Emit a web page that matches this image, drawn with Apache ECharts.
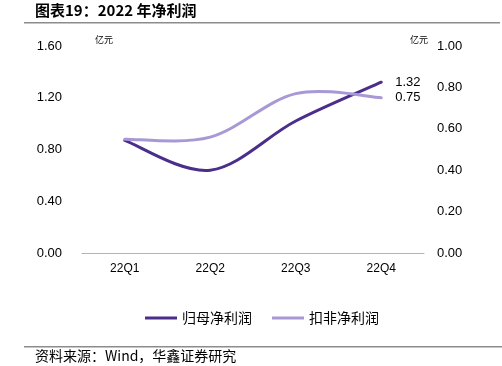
<!DOCTYPE html>
<html><head><meta charset="utf-8">
<script src="https://cdn.jsdelivr.net/npm/echarts@6/dist/echarts.min.js"></script>
<style>html,body{margin:0;padding:0;background:#fff}#c{width:502px;height:366px}</style>
</head><body><div id="c"></div>
<script>
const categories = ['22Q1', '22Q2', '22Q3', '22Q4'];
const netProfit = [0.87, 0.64, 1.02, 1.32];      // 归母净利润 (left axis)
const deductedProfit = [0.55, 0.56, 0.77, 0.75]; // 扣非净利润 (right axis)
const leftTicks = { min: 0, max: 1.6, interval: 0.4 };
const rightTicks = { min: 0, max: 1.0, interval: 0.2 };

const chart = echarts.init(document.getElementById('c'));
const fontCJK = '"Noto Sans CJK SC", sans-serif';

// Smooth (Catmull-Rom style) curve through the data points, positioned by the axes.
function smoothRender(values, color, labelDy) {
  return function (params, api) {
    if (params.dataIndex !== 0) return null;
    const pts = values.map((v, i) => api.coord([i, v]));
    const n = pts.length;
    const path = [];
    for (let i = 0; i < n - 1; i++) {
      const p0 = pts[Math.max(i - 1, 0)], p1 = pts[i], p2 = pts[i + 1], p3 = pts[Math.min(i + 2, n - 1)];
      const c1 = [p1[0] + (p2[0] - p0[0]) / 6, p1[1] + (p2[1] - p0[1]) / 6];
      const c2 = [p2[0] - (p3[0] - p1[0]) / 6, p2[1] - (p3[1] - p1[1]) / 6];
      if (i === 0) path.push('M' + p1[0] + ' ' + p1[1]);
      path.push('C' + c1[0] + ' ' + c1[1] + ' ' + c2[0] + ' ' + c2[1] + ' ' + p2[0] + ' ' + p2[1]);
    }
    const last = pts[n - 1];
    return {
      type: 'group',
      children: [
        { type: 'path', shape: { pathData: path.join(' ') },
          style: { fill: 'none', stroke: color, lineWidth: 3, lineCap: 'round' } },
        { type: 'text', x: last[0] + 14, y: last[1] + labelDy,
          style: { text: values[n - 1].toFixed(2), fill: '#000', font: '13px "Liberation Sans"', verticalAlign: 'middle' } }
      ]
    };
  };
}

chart.setOption({
  animation: false,
  textStyle: { fontFamily: 'Liberation Sans' },
  graphic: [
    { type: 'text', left: 35, top: 3, style: { text: '图表19：2022 年净利润', font: 'bold 15px ' + fontCJK, fill: '#000' } },
    { type: 'rect', shape: { x: 24, y: 22, width: 476, height: 1.5 }, style: { fill: '#8c8c8c' } },
    { type: 'rect', shape: { x: 24, y: 346, width: 478, height: 1.5 }, style: { fill: '#8c8c8c' } },
    { type: 'text', left: 35, top: 349, style: { text: '资料来源：Wind，华鑫证券研究', font: '14px ' + fontCJK, fill: '#000' } },
    { type: 'text', left: 95, top: 35, style: { text: '亿元', font: '9px ' + fontCJK, fill: '#000' } },
    { type: 'text', left: 410, top: 35, style: { text: '亿元', font: '9px ' + fontCJK, fill: '#000' } }
  ],
  grid: { left: 82, right: 78, top: 46, bottom: 113 },
  legend: {
    bottom: 36, left: 140, itemWidth: 32, itemHeight: 3, itemGap: 20,
    icon: 'rect',
    textStyle: { fontFamily: fontCJK, fontSize: 14, color: '#000' },
    data: ['归母净利润', '扣非净利润']
  },
  xAxis: {
    type: 'category', data: categories, boundaryGap: true,
    axisLine: { lineStyle: { color: '#b4b4b4', width: 1 } },
    axisTick: { inside: true, length: 4, lineStyle: { color: '#b4b4b4' } },
    axisLabel: { color: '#000', fontSize: 12, margin: 10 }
  },
  yAxis: [
    {
      type: 'value', min: leftTicks.min, max: leftTicks.max, interval: leftTicks.interval,
      axisLine: { show: false }, axisTick: { show: false }, splitLine: { show: false },
      axisLabel: { color: '#000', fontSize: 13, margin: 20, formatter: (v) => v.toFixed(2) }
    },
    {
      type: 'value', min: rightTicks.min, max: rightTicks.max, interval: rightTicks.interval,
      axisLine: { show: false }, axisTick: { show: false }, splitLine: { show: false },
      axisLabel: { color: '#000', fontSize: 13, margin: 13, formatter: (v) => v.toFixed(2) }
    }
  ],
  series: [
    {
      name: '归母净利润', type: 'custom', yAxisIndex: 0, data: netProfit,
      itemStyle: { color: '#4b2d8c' },
      renderItem: smoothRender(netProfit, '#4b2d8c', 0),
      encode: { x: 0, y: 1 }
    },
    {
      name: '扣非净利润', type: 'custom', yAxisIndex: 1, data: deductedProfit,
      itemStyle: { color: '#a898d6' },
      renderItem: smoothRender(deductedProfit, '#a898d6', 0),
      encode: { x: 0, y: 1 }
    }
  ]
});
</script></body></html>
